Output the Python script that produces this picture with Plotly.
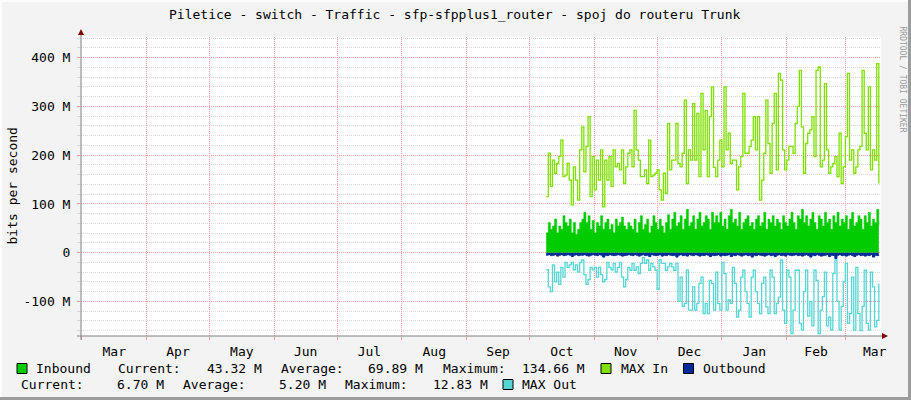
import pandas as pd
import plotly.graph_objects as go

# ---------------- data (values in M bits/s) ----------------
start_date = "2022-10-09"

max_in = [115, 204, 136, 190, 163, 183, 197, 231, 156, 159,
          183, 149, 98, 176, 149, 108, 211, 258, 166, 218,
          279, 115, 197, 129, 190, 149, 211, 94, 190, 149,
          197, 136, 211, 176, 183, 170, 211, 142, 176, 204,
          211, 176, 292, 211, 190, 156, 156, 170, 142, 231,
          156, 159, 163, 170, 129, 108, 163, 122, 265, 170,
          190, 190, 265, 183, 176, 204, 313, 142, 211, 190,
          306, 190, 286, 156, 327, 211, 292, 156, 279, 340,
          175, 156, 190, 231, 176, 340, 211, 245, 183, 190,
          190, 129, 176, 197, 327, 204, 204, 218, 231, 279,
          211, 279, 108, 149, 204, 313, 224, 163, 265, 327,
          170, 368, 354, 211, 170, 190, 218, 218, 204, 265,
          300, 374, 258, 163, 224, 245, 252, 279, 197, 374,
          381, 176, 190, 347, 211, 163, 176, 183, 197, 156,
          245, 142, 176, 238, 368, 190, 211, 163, 176, 211,
          218, 374, 245, 211, 340, 170, 211, 190, 388, 142]

max_out = [-35, -70, -80, -25, -60, -40, -65, -30, -50, -20,
           -30, -25, -20, -35, -25, -40, -20, -15, -45, -65,
           -55, -30, -35, -30, -50, -30, -45, -60, -55, -20,
           -30, -35, -22, -40, -30, -20, -50, -70, -55, -30,
           -36, -22, -36, -29, -43, -22, -10, -22, -15, -36,
           -22, -29, -36, -75, -15, -22, -22, -36, -29, -22,
           -29, -36, -22, -100, -50, -110, -104, -36, -118, -118,
           -70, -118, -104, -63, -50, -125, -104, -125, -57, -63,
           -118, -40, -104, -118, -20, -43, -118, -97, -104, -30,
           -63, -132, -118, -50, -36, -80, -104, -132, -50, -36,
           -80, -104, -125, -63, -50, -111, -125, -36, -50, -125,
           -104, -91, -15, -118, -145, -36, -50, -166, -118, -36,
           -36, -145, -159, -80, -36, -130, -100, -150, -36, -57,
           -166, -118, -90, -40, -150, -132, -159, -43, -15, -100,
           -159, -110, -60, -22, -145, -125, -50, -159, -30, -125,
           -160, -110, -36, -145, -159, -40, -70, -152, -139, -63]

inbound = [41, 62, 48, 55, 69, 41, 55, 48, 76, 62, 55, 69, 41, 62, 38, 48, 62, 69, 83, 62,
           76, 48, 66, 41, 62, 55, 76, 48, 62, 69, 48, 58, 41, 69, 55, 62, 73, 55, 48, 62,
           55, 48, 69, 41, 62, 76, 48, 58, 69, 41, 55, 76, 62, 48, 69, 55, 41, 62, 78, 48,
           69, 83, 55, 62, 76, 48, 69, 89, 55, 62, 76, 48, 69, 83, 55, 62, 76, 69, 48, 83, 62,
           76, 62, 83, 55, 69, 48, 76, 89, 62, 69, 55, 83, 48, 62, 69, 76, 55, 62, 48, 69,
           76, 55, 62, 83, 48, 69, 62, 76, 55, 69, 62, 48, 76, 62, 55, 69, 83, 62, 48, 76, 69,
           89, 62, 76, 55, 69, 83, 62, 48, 76, 69, 55, 83, 62, 69, 48, 76, 62, 83, 55, 69,
           62, 76, 48, 69, 83, 55, 62, 76, 69, 48, 76, 62, 83, 55, 69, 62, 89, 55]

outbound = [-5, -4, -6, -5, -4, -7, -5, -4, -6, -5, -4, -5, -8, -5, -4, -6, -5, -5, -4, -6,
            -7, -5, -4, -5, -6, -4, -5, -9, -5, -6, -4, -5, -6, -5, -4, -5, -7, -6, -5, -4,
            -5, -6, -4, -5, -7, -5, -4, -6, -5, -8, -4, -5, -6, -5, -4, -7, -5, -6, -4, -5,
            -6, -5, -9, -5, -4, -6, -5, -7, -4, -5, -6, -4, -5, -7, -5, -6, -4, -5, -8, -5,
            -6, -5, -4, -7, -5, -6, -5, -4, -8, -5, -6, -4, -5, -7, -5, -4, -6, -5, -9, -5,
            -6, -4, -5, -6, -7, -5, -4, -6, -5, -8, -5, -4, -6, -5, -7, -4, -5, -6, -5, -4,
            -6, -5, -7, -5, -4, -6, -9, -5, -6, -4, -5, -7, -6, -5, -4, -8, -5, -6, -12, -5,
            -4, -6, -5, -7, -5, -4, -6, -8, -5, -4, -6, -5, -7, -5, -6, -4, -9, -5, -6, -5]

y_tick_vals = [-100, 0, 100, 200, 300, 400]
y_tick_text = ["-100 M", "0", "100 M", "200 M", "300 M", "400 M"]

title_text = "Piletice - switch - Traffic - sfp-sfpplus1_router - spoj do routeru Trunk"
legend_row1 = [("Inbound", 34), ("Current:", 116), ("43.32 M", 205), ("Average:", 279),
               ("69.89 M", 366), ("Maximum:", 441), ("134.66 M", 520), ("MAX In", 619),
               ("Outbound", 701)]
legend_row2 = [("Current:", 18.6), ("6.70 M", 114.5), ("Average:", 181), ("5.20 M", 276.5),
               ("Maximum:", 343), ("12.83 M", 431), ("MAX Out", 520)]

# ---------------- styling ----------------
W, H = 911, 400
L, R, T, B = 81, 881, 37, 336
C_IN = "#00cc00"
C_MAXIN = "#7fe000"
C_OUT = "#002a97"
C_MAXOUT = "#55d6d3"
MONO = "DejaVu Sans Mono"

dates = pd.date_range(start_date, periods=len(max_in), freq="D")


def px(xp):
    return (xp - L) / (R - L)


def py(yp):
    return (B - yp) / (B - T)


fig = go.Figure()
fig.add_trace(go.Scatter(x=dates, y=inbound, mode="lines", line=dict(color=C_IN, width=0.5, shape="hv"),
                         fill="tozeroy", fillcolor=C_IN, name="Inbound"))
fig.add_trace(go.Scatter(x=dates, y=outbound, mode="lines", line=dict(color=C_OUT, width=1, shape="hv"),
                         fill="tozeroy", fillcolor=C_OUT, name="Outbound"))
fig.add_trace(go.Scatter(x=dates, y=max_in, mode="lines", line=dict(color=C_MAXIN, width=1.3, shape="hv"),
                         name="MAX In"))
fig.add_trace(go.Scatter(x=dates, y=max_out, mode="lines", line=dict(color=C_MAXOUT, width=1.3, shape="hv"),
                         name="MAX Out"))

shapes = []
# axes
shapes.append(dict(type="line", xref="paper", yref="paper", x0=px(81), x1=px(81), y0=py(340), y1=py(33),
                   line=dict(color="#808080", width=1), layer="above"))
shapes.append(dict(type="line", xref="paper", yref="paper", x0=px(77), x1=px(884), y0=py(336), y1=py(336),
                   line=dict(color="#808080", width=1), layer="above"))
# arrows
shapes.append(dict(type="path", xref="paper", yref="paper",
                   path=f"M {px(78)} {py(35)} L {px(84)} {py(35)} L {px(81)} {py(29)} Z",
                   fillcolor="#800000", line=dict(width=0), layer="above"))
shapes.append(dict(type="path", xref="paper", yref="paper",
                   path=f"M {px(882)} {py(333)} L {px(882)} {py(339)} L {px(888)} {py(336)} Z",
                   fillcolor="#800000", line=dict(width=0), layer="above"))
# frame edges
shapes.append(dict(type="rect", xref="paper", yref="paper", x0=px(908), x1=px(912), y0=py(0), y1=py(400),
                   fillcolor="#9c9c9c", line=dict(width=0)))
shapes.append(dict(type="rect", xref="paper", yref="paper", x0=px(0), x1=px(912), y0=py(397), y1=py(401),
                   fillcolor="#9c9c9c", line=dict(width=0)))
shapes.append(dict(type="rect", xref="paper", yref="paper", x0=px(0), x1=px(908), y0=py(-1), y1=py(2),
                   fillcolor="#fcfcfc", line=dict(width=0)))
shapes.append(dict(type="rect", xref="paper", yref="paper", x0=px(-1), x1=px(2), y0=py(0), y1=py(397),
                   fillcolor="#fcfcfc", line=dict(width=0)))
# legend squares
for xs, ys, col in [(17, 363.5, C_IN), (601, 363.5, C_MAXIN), (683.5, 363.5, C_OUT), (503, 379.5, C_MAXOUT)]:
    shapes.append(dict(type="rect", xref="paper", yref="paper", x0=px(xs), x1=px(xs + 10),
                       y0=py(ys + 10), y1=py(ys), fillcolor=col, line=dict(color="#000000", width=1)))

annotations = []
annotations.append(dict(text=title_text, xref="paper", yref="paper", x=px(455), y=py(14),
                        xanchor="center", yanchor="middle", showarrow=False,
                        font=dict(family=MONO, size=13, color="#000000")))
annotations.append(dict(text="bits per second", xref="paper", yref="paper", x=px(12), y=py(186.5),
                        xanchor="center", yanchor="middle", textangle=-90, showarrow=False,
                        font=dict(family=MONO, size=13, color="#000000")))
annotations.append(dict(text="RRDTOOL / TOBI OETIKER", xref="paper", yref="paper", x=px(902.5), y=py(79),
                        xanchor="center", yanchor="middle", textangle=90, showarrow=False,
                        font=dict(family=MONO, size=8, color="#9a9a9a")))
for txt, xl in legend_row1:
    annotations.append(dict(text=txt, xref="paper", yref="paper", x=px(xl), y=py(368.5),
                            xanchor="left", yanchor="middle", showarrow=False,
                            font=dict(family=MONO, size=13, color="#000000")))
for txt, xl in legend_row2:
    annotations.append(dict(text=txt, xref="paper", yref="paper", x=px(xl), y=py(384.5),
                            xanchor="left", yanchor="middle", showarrow=False,
                            font=dict(family=MONO, size=13, color="#000000")))

fig.update_layout(
    width=W, height=H,
    margin=dict(l=L, r=W - R, t=T, b=H - B, pad=0),
    paper_bgcolor="#f3f3f3", plot_bgcolor="#ffffff",
    showlegend=False,
    shapes=shapes, annotations=annotations,
    xaxis=dict(type="date", range=["2022-02-28 15:00", "2023-03-18 01:00"],
               dtick="M1", tick0="2022-03-01", tickformat="%b", ticklabelmode="period",
               showgrid=True, gridcolor="#f2a0a0", griddash="1px,1px", gridwidth=1,
               ticks="outside", ticklen=3, tickcolor="#f2a0a0",
               tickfont=dict(family=MONO, size=13, color="#000000"),
               showline=False, zeroline=False, fixedrange=True),
    yaxis=dict(range=[-170.9, 442.5], tickvals=y_tick_vals, ticktext=y_tick_text,
               showgrid=True, gridcolor="#f2a0a0", griddash="1px,1px", gridwidth=1,
               ticks="outside", ticklen=3, tickcolor="#f2a0a0",
               minor=dict(dtick=20, tick0=0, showgrid=True, gridcolor="#d8d8d8", griddash="1px,1px",
                          ticks="outside", ticklen=3, tickcolor="#d8d8d8"),
               tickfont=dict(family=MONO, size=13, color="#000000"),
               ticklabelstandoff=4,
               showline=False, zeroline=False, fixedrange=True),
)

fig.write_html("out.html", config={"displayModeBar": False},
               post_script="document.body.style.margin='0';document.body.style.overflow='hidden';")
